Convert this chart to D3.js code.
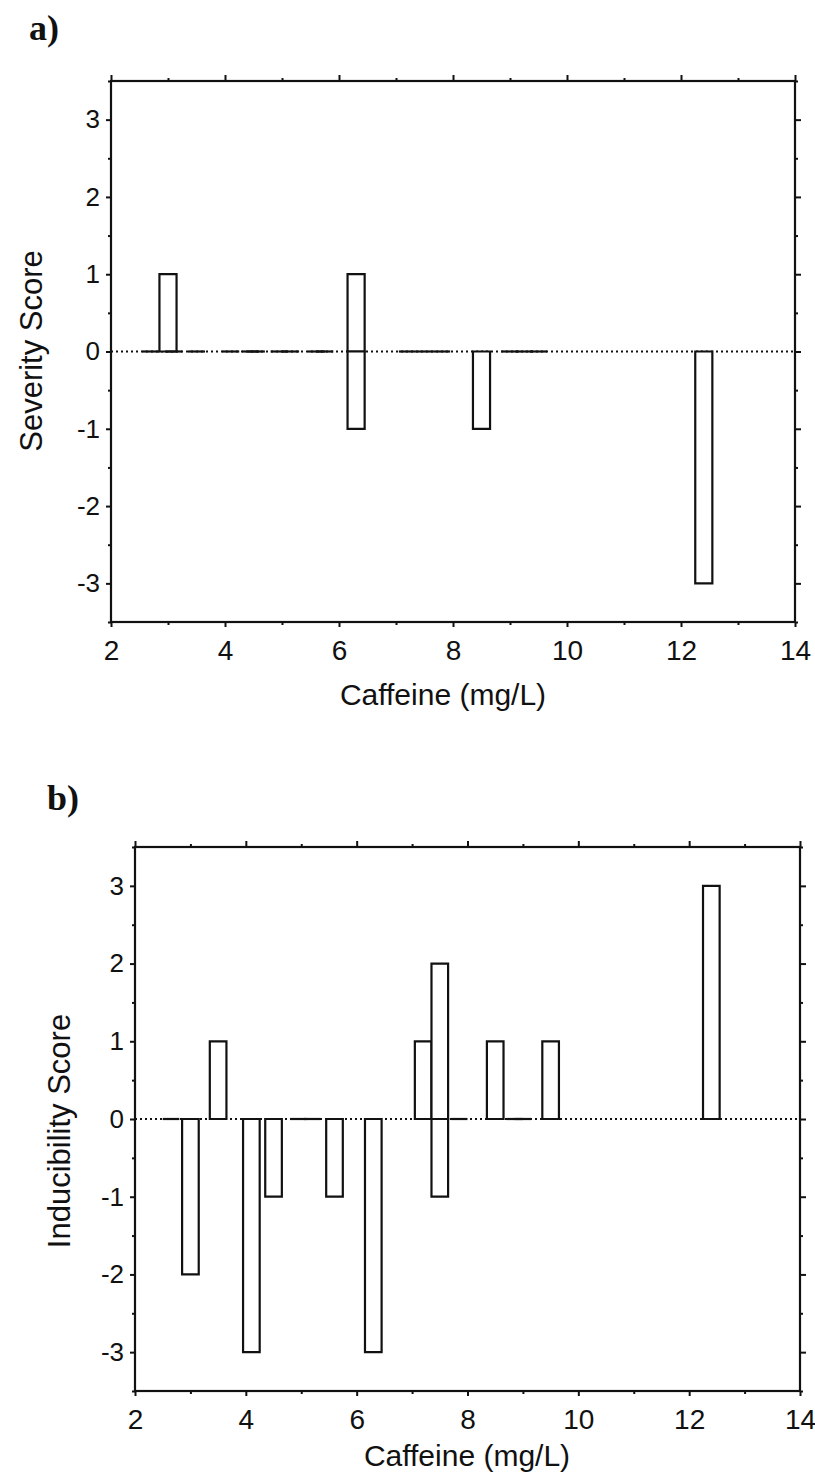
<!DOCTYPE html>
<html>
<head>
<meta charset="utf-8">
<script src="https://cdn.jsdelivr.net/npm/d3@7"></script>
<style>
  html, body { margin: 0; padding: 0; background: #fff; }
  svg { display: block; }
  text { font-family: "Liberation Sans", Arial, sans-serif; fill: #111; }
  text.tag { font-family: "Liberation Serif", "DejaVu Serif", serif; font-weight: bold; }
</style>
</head>
<body>
<script>
// Axis ticks shared by both panels
const xMajorTicks = [2, 4, 6, 8, 10, 12, 14];
const xMinorTicks = [3, 5, 7, 9, 11, 13];
const yMajorTicks = [-3, -2, -1, 0, 1, 2, 3];
const yMinorTicks = [-3.5, -2.5, -1.5, -0.5, 0.5, 1.5, 2.5, 3.5];

// a) Severity score by caffeine level (0 = no change)
const severityCaffeine = [2.7, 3.0, 3.1, 3.5, 4.1, 4.45, 4.55, 4.95, 5.15, 5.6, 5.75, 6.3, 6.3, 7.2, 7.5, 7.8, 8.5, 9.0, 9.25, 9.5, 12.4];
const severityScore    = [0,   1,   0,   0,   0,   0,    0,    0,    0,    0,   0,    1,   -1,  0,   0,   0,   -1,  0,   0,    0,   -3];

// b) Inducibility score by caffeine level
const inducibilityCaffeine = [2.65, 3.0, 3.5, 4.1, 4.5, 4.95, 5.2, 5.6, 6.3, 7.2, 7.5, 7.5, 7.85, 8.5, 8.85, 9.0, 9.5, 12.4];
const inducibilityScore    = [0,    -2,  1,   -3,  -1,  0,    0,   -1,  -3,  1,   2,   -1,  0,    1,   0,    0,   1,   3];

const W = 815, H = 1481;
const svg = d3.select("body").append("svg").attr("width", W).attr("height", H);
svg.append("rect").attr("width", W).attr("height", H).attr("fill", "#fff");

const barHalf = 0.15;
const plainNumber = d => String(d);   // keeps an ASCII hyphen for negatives

function drawPanel(cfg) {
  const g = svg.append("g");
  const x = d3.scaleLinear().domain([2, 14]).range([cfg.left, cfg.right]);
  const y = d3.scaleLinear().domain([-3.5, 3.5]).range([cfg.bottom, cfg.top]);

  // dotted zero reference
  g.append("line")
    .attr("x1", x(2)).attr("x2", x(14))
    .attr("y1", y(0)).attr("y2", y(0))
    .attr("stroke", "#111").attr("stroke-width", 1.8)
    .attr("stroke-dasharray", "2,3");

  // bars (a zero score is drawn as a flat bar on the baseline)
  const data = cfg.caffeine.map((c, i) => ({ c, v: cfg.score[i] }));
  g.selectAll("path.bar").data(data).join("path")
    .attr("class", "bar")
    .attr("d", d => {
      const x0 = x(d.c - barHalf), x1 = x(d.c + barHalf), y0 = y(0), y1 = y(d.v);
      return d.v === 0 ? `M${x0},${y0}H${x1}` : `M${x0},${y0}V${y1}H${x1}V${y0}Z`;
    })
    .attr("fill", d => d.v === 0 ? "none" : "#fff")
    .attr("stroke", "#111").attr("stroke-width", 2.2);

  const axisStyle = sel => {
    sel.select(".domain").remove();
    sel.selectAll(".tick line").attr("stroke", "#111").attr("stroke-width", 2);
  };

  // bottom axis with labels
  g.append("g").attr("transform", `translate(0,${cfg.bottom})`)
    .call(d3.axisBottom(x).tickValues(xMajorTicks).tickSize(5).tickPadding(13).tickFormat(plainNumber))
    .call(axisStyle)
    .call(s => s.selectAll("text").attr("font-size", 28));
  g.append("g").attr("transform", `translate(0,${cfg.bottom})`)
    .call(d3.axisBottom(x).tickValues(xMinorTicks).tickSize(3).tickFormat(""))
    .call(axisStyle);
  // top axis ticks
  g.append("g").attr("transform", `translate(0,${cfg.top})`)
    .call(d3.axisTop(x).tickValues(xMajorTicks).tickSize(6).tickFormat(""))
    .call(axisStyle);
  g.append("g").attr("transform", `translate(0,${cfg.top})`)
    .call(d3.axisTop(x).tickValues(xMinorTicks).tickSize(3).tickFormat(""))
    .call(axisStyle);
  // left axis with labels
  g.append("g").attr("transform", `translate(${cfg.left},0)`)
    .call(d3.axisLeft(y).tickValues(yMajorTicks).tickSize(5).tickPadding(6).tickFormat(plainNumber))
    .call(axisStyle)
    .call(s => s.selectAll("text").attr("font-size", 26));
  g.append("g").attr("transform", `translate(${cfg.left},0)`)
    .call(d3.axisLeft(y).tickValues(yMinorTicks).tickSize(3).tickFormat(""))
    .call(axisStyle);
  // right axis ticks
  g.append("g").attr("transform", `translate(${cfg.right},0)`)
    .call(d3.axisRight(y).tickValues(yMajorTicks).tickSize(6).tickFormat(""))
    .call(axisStyle);
  g.append("g").attr("transform", `translate(${cfg.right},0)`)
    .call(d3.axisRight(y).tickValues(yMinorTicks).tickSize(3).tickFormat(""))
    .call(axisStyle);

  // frame
  g.append("rect")
    .attr("x", cfg.left).attr("y", cfg.top)
    .attr("width", cfg.right - cfg.left).attr("height", cfg.bottom - cfg.top)
    .attr("fill", "none").attr("stroke", "#111").attr("stroke-width", 2.2);

  // titles
  g.append("text")
    .attr("x", cfg.xTitleX).attr("y", cfg.xTitleY)
    .attr("text-anchor", "middle").attr("font-size", 30)
    .text("Caffeine (mg/L)");
  g.append("text")
    .attr("transform", `translate(${cfg.yTitleX},${cfg.yTitleY}) rotate(-90)`)
    .attr("text-anchor", "middle").attr("font-size", 31)
    .text(cfg.yTitle);
  g.append("text")
    .attr("class", "tag")
    .attr("x", cfg.tagX).attr("y", cfg.tagY)
    .attr("font-size", 36)
    .text(cfg.tag);
}

drawPanel({
  left: 111, right: 795, top: 81, bottom: 622,
  caffeine: severityCaffeine, score: severityScore,
  yTitle: "Severity Score", yTitleX: 42, yTitleY: 351,
  xTitleX: 443, xTitleY: 705,
  tag: "a)", tagX: 29, tagY: 40
});

drawPanel({
  left: 135, right: 800, top: 847, bottom: 1391,
  caffeine: inducibilityCaffeine, score: inducibilityScore,
  yTitle: "Inducibility Score", yTitleX: 70, yTitleY: 1131,
  xTitleX: 467, xTitleY: 1466,
  tag: "b)", tagX: 47, tagY: 810
});
</script>
</body>
</html>
